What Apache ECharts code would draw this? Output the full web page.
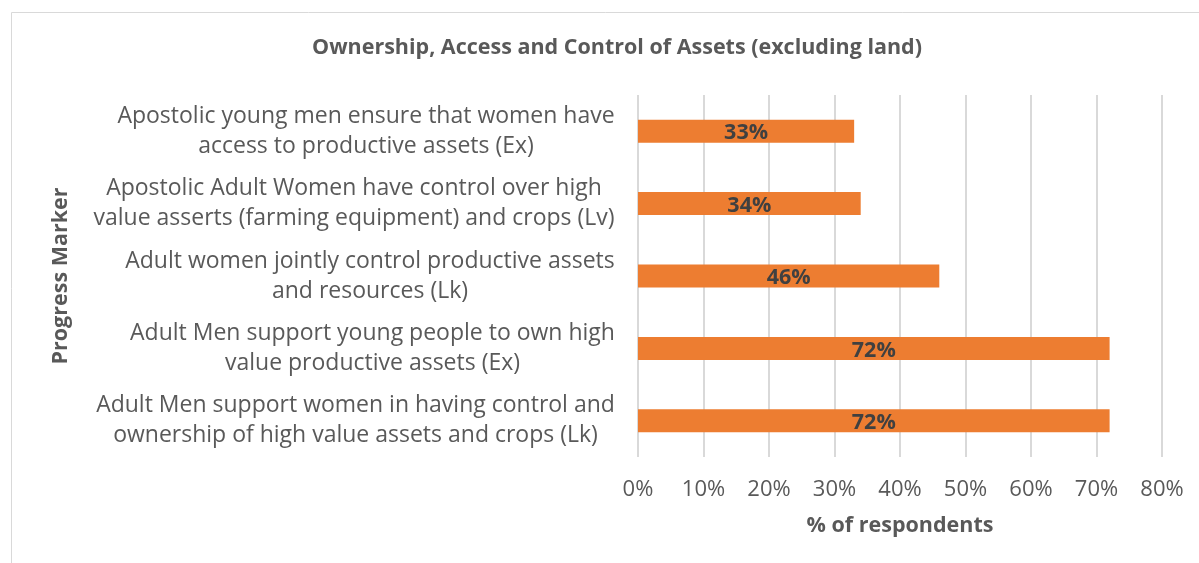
<!DOCTYPE html>
<html>
<head>
<meta charset="utf-8">
<script src="https://cdn.jsdelivr.net/npm/echarts@6/dist/echarts.min.js"></script>
<style>
  html, body { margin: 0; padding: 0; background: #fff; }
  #chart { width: 1199px; height: 563px; }
</style>
</head>
<body>
<div id="chart"></div>
<script>
// progress markers, top to bottom, each split into its two printed lines
const markers = [
  ['Apostolic young men ensure that women have', 'access to productive assets (Ex)'],
  ['Apostolic Adult Women have control over high', 'value asserts (farming equipment) and crops (Lv)'],
  ['Adult women jointly control productive assets', 'and resources (Lk)'],
  ['Adult Men support young people to own high', 'value productive assets (Ex)'],
  ['Adult Men support women in having control and', 'ownership of high value assets and crops (Lk)']
];
const respondents = [33, 34, 46, 72, 72];
const xTicks = [0, 10, 20, 30, 40, 50, 60, 70, 80];

const FONT = '"Open Sans", "Noto Sans", sans-serif';
const GREY = '#595959';
const LABEL_SIZE = 23;

// each label block is right-aligned to the axis, its lines centred inside it
const ctx = document.createElement('canvas').getContext('2d');
ctx.font = `${LABEL_SIZE}px ${FONT}`;
const rich = {};
markers.forEach((lines, i) => {
  const w = Math.max(...lines.map((l) => ctx.measureText(l).width));
  rich['r' + i] = {
    width: Math.ceil(w) + 2,
    align: 'center',
    fontSize: LABEL_SIZE,
    fontFamily: FONT,
    color: GREY,
    lineHeight: 30
  };
});

const chart = echarts.init(document.getElementById('chart'));
chart.setOption({
  animation: false,
  textStyle: { fontFamily: FONT },
  graphic: [{
    type: 'rect',
    shape: { x: 11.5, y: 12.5, width: 1210, height: 570 },
    style: { fill: 'none', stroke: '#d9d9d9', lineWidth: 1 },
    silent: true,
    z: -10
  }],
  title: {
    text: 'Ownership, Access and Control of Assets (excluding land)',
    left: 612,
    top: 32,
    textAlign: 'center',
    textStyle: { fontFamily: FONT, fontSize: 21.5, fontWeight: 'bold', color: GREY }
  },
  grid: { left: 638, right: 37, top: 95, bottom: 106, containLabel: false },
  xAxis: {
    type: 'value',
    min: 0,
    max: xTicks[xTicks.length - 1],
    interval: 10,
    name: '% of respondents',
    nameLocation: 'middle',
    nameGap: 58,
    nameTextStyle: { fontFamily: FONT, fontSize: 21.5, fontWeight: 'bold', color: GREY },
    axisLine: { show: false },
    axisTick: { show: false },
    axisLabel: {
      margin: 22,
      fontSize: 22,
      color: GREY,
      fontFamily: FONT,
      formatter: (v) => v + '%'
    },
    splitLine: { lineStyle: { color: '#d9d9d9', width: 2 } }
  },
  yAxis: {
    type: 'category',
    inverse: true,
    data: markers.map((l) => l.join('\n')),
    name: 'Progress Marker',
    nameLocation: 'middle',
    nameGap: 566,
    nameRotate: 90,
    nameTextStyle: { fontFamily: FONT, fontSize: 21.5, fontWeight: 'bold', color: GREY },
    axisLine: { show: false },
    axisTick: { show: false },
    axisLabel: {
      margin: 22,
      align: 'right',
      rich,
      formatter: (v, i) => markers[i].map((l) => `{r${i}|${l}}`).join('\n')
    }
  },
  series: [{
    type: 'bar',
    data: respondents,
    barWidth: 23,
    itemStyle: { color: '#ED7D31' },
    label: {
      show: true,
      position: 'inside',
      offset: [0, 2],
      formatter: '{c}%',
      fontFamily: FONT,
      fontSize: 21.5,
      fontWeight: 'bold',
      color: '#404040'
    }
  }]
});
</script>
</body>
</html>
